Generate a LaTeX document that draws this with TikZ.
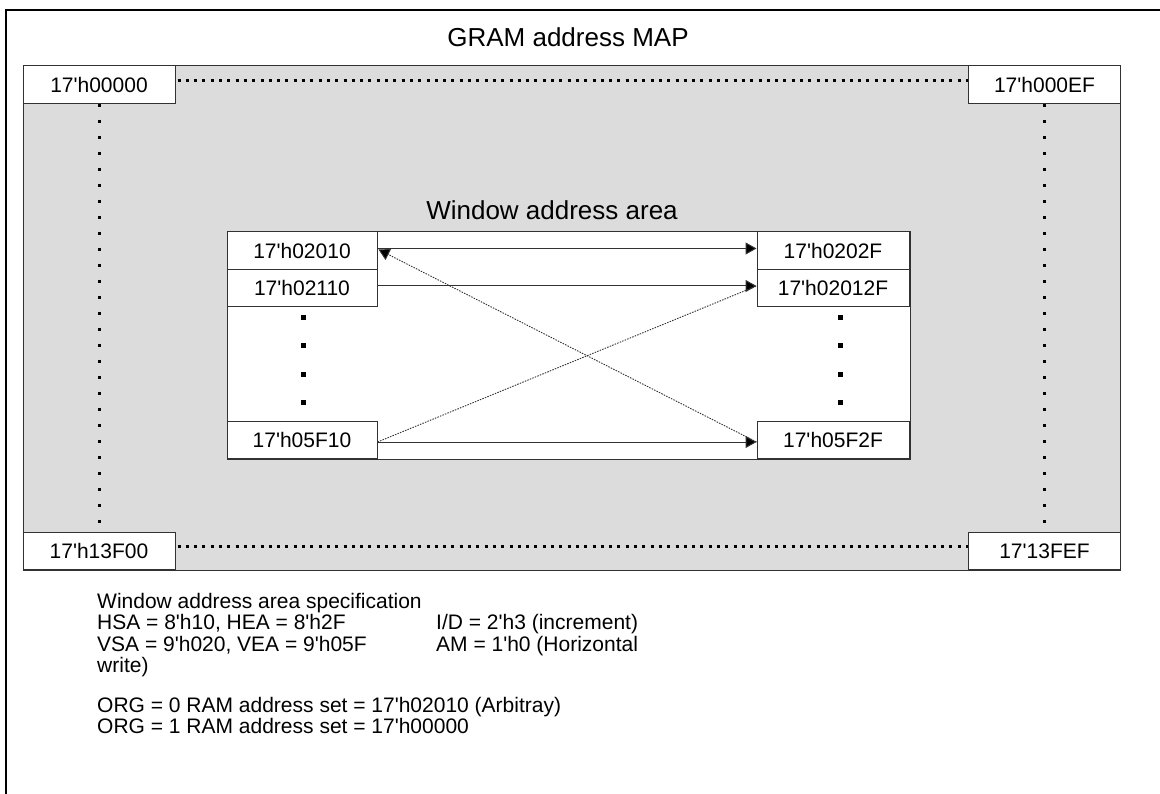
\documentclass[tikz,border=0pt]{standalone}
\usepackage{fontspec}
\setmainfont{Liberation Sans}[Ligatures=TeXOff]
\usetikzlibrary{arrows.meta}
\definecolor{graybg}{RGB}{220,220,220}
\definecolor{edge}{RGB}{50,50,50}
\begin{document}
\begin{tikzpicture}[x=1pt,y=-1pt,
  addr/.style={draw=edge, fill=white, line width=1pt, inner sep=0pt,
    minimum width=152pt, minimum height=37.5pt, font=\fontsize{21}{24}\selectfont},
  wbox/.style={addr, minimum width=150pt},
  hdots/.style={line width=3pt, dash pattern=on 3pt off 5.3pt, line cap=butt},
  vdots/.style={line width=3pt, dash pattern=on 3pt off 13pt, line cap=butt},
  wdot/.style={fill=black, inner sep=0pt, minimum size=5pt},
  tip/.style={-{Triangle[length=11pt,width=12pt,fill=black]}},
  arr/.style={draw=edge, line width=1pt, tip},
  dline/.style={draw=edge, line width=0.9pt, dash pattern=on 1.5pt off 1.2pt},
  darr/.style={dline, tip},
  big/.style={font=\fontsize{26}{30}\selectfont},
  note/.style={anchor=base west, inner sep=0pt, font=\fontsize{21}{24}\selectfont}]
\useasboundingbox (0,0) rectangle (1160,794);
% outer frame (right and bottom edges lie beyond the picture)
\draw[line width=2pt] (1162,10) -- (6,10) -- (6,796);
% GRAM area
\node[draw=edge, fill=graybg, line width=1pt, inner sep=0pt,
  minimum width=1097pt, minimum height=504pt] (map) at (571.5,318) {};
\node[big] (title) at (568,37) {GRAM address MAP};
\node[addr] (c1) at (99,84.5) {17'h00000};
\node[addr] (c2) at (1044.5,84.5) {17'h000EF};
\node[addr] (c3) at (99,551) {17'h13F00};
\node[addr] (c4) at (1044.5,551) {17'13FEF};
\draw[hdots, shorten <=2pt] ([yshift=4pt]c1.east) -- ([yshift=4pt]c2.west);
\draw[hdots, shorten <=2pt] ([yshift=5pt]c3.east) -- ([yshift=5pt]c4.west);
\draw[vdots] (c1.south) -- (c3.north);
\draw[vdots] (c2.south) -- (c4.north);
% window area
\node[big] (wtitle) at (552,210) {Window address area};
\node[draw=edge, fill=white, line width=1pt, inner sep=0pt,
  minimum width=683pt, minimum height=227pt] (win) at (568.5,345.5) {};
\node[wbox] (w1) at (302,250.5) {17'h02010};
\node[wbox] (w2) at (302,288) {17'h02110};
\node[wbox] (w3) at (302,440) {17'h05F10};
\node[addr] (r1) at (833,250.5) {17'h0202F};
\node[addr] (r2) at (833,288) {17'h02012F};
\node[addr] (r3) at (833,440) {17'h05F2F};
\foreach \y [count=\i] in {318,346,375,403}{
  \node[wdot] (ld\i) at (303,\y) {};
  \node[wdot] (rd\i) at (840,\y) {};
}
\draw[arr] ([yshift=2pt]w1.east) -- ([yshift=2pt]r1.west);
\draw[arr] ([yshift=2pt]w2.east) -- ([yshift=2pt]r2.west);
\draw[arr] ([yshift=-2pt]w3.east) -- ([yshift=-2pt]r3.west);
\draw[darr] ([yshift=-2pt]r3.west) -- ([xshift=1pt,yshift=1pt]w1.east);
\draw[dline] ([yshift=-2pt]w3.east) -- ([yshift=2pt]r2.west);
% specification text
\node[note] (s1) at (97,608) {Window address area specification};
\node[note] (s2) at (97,629.5) {HSA = 8'h10, HEA = 8'h2F};
\node[note] (s3) at (97,651) {VSA = 9'h020, VEA = 9'h05F};
\node[note] (s4) at (97,672.5) {write)};
\node[note] (s5) at (436,629.5) {I/D = 2'h3 (increment)};
\node[note] (s6) at (436,651) {AM = 1'h0 (Horizontal};
\node[note] (s7) at (97,712) {ORG = 0 RAM address set = 17'h02010 (Arbitray)};
\node[note] (s8) at (97,733.5) {ORG = 1 RAM address set = 17'h00000};
\end{tikzpicture}
\end{document}
